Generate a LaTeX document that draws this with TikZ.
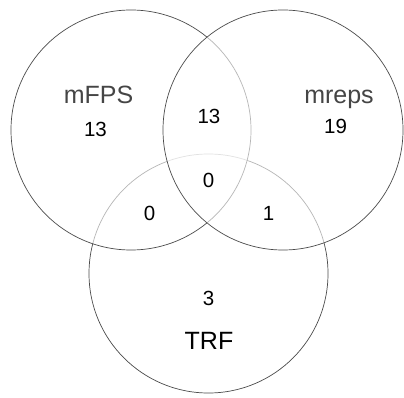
\documentclass[tikz,border=0pt]{standalone}
\usepackage{fontspec}
\setmainfont{Liberation Sans}
\definecolor{ringc}{HTML}{4A4A4A}
\definecolor{labc}{HTML}{454545}
\tikzset{
  ring/.style={draw=ringc, line width=0.7pt, fill=white, fill opacity=0.6},
  setlab/.style={font=\fontsize{25}{28}\selectfont, text=labc, anchor=base, inner sep=0pt},
  reglab/.style={font=\fontsize{20.5}{24}\selectfont, text=black, anchor=base, inner sep=0pt},
}
\begin{document}
\begin{tikzpicture}[x=1pt,y=-1pt]
\useasboundingbox[fill=white] (0,0) rectangle (404,398);
\path[ring] (208.5,273.5) circle[radius=119.5];
\path[ring] (131,130) circle[radius=120];
\path[ring] (283,130) circle[radius=120];
\coordinate (cA) at (131,130);
\coordinate (cB) at (283,130);
\coordinate (cC) at (208.5,273.5);
\node[setlab] (lA) at (98.5,104) {mFPS};
\node[setlab] (lB) at (339,104) {mreps};
\node[setlab, text=black] (lC) at (209,349) {TRF};
\node[reglab] (nA) at (95.5,137) {13};
\node[reglab] (nB) at (335.5,134) {19};
\node[reglab] (nAB) at (209,124) {13};
\node[reglab] (nABC) at (208.5,188) {0};
\node[reglab] (nAC) at (149.5,220.5) {0};
\node[reglab] (nBC) at (268.5,220) {1};
\node[reglab] (nC) at (208.5,305) {3};
\end{tikzpicture}
\end{document}
